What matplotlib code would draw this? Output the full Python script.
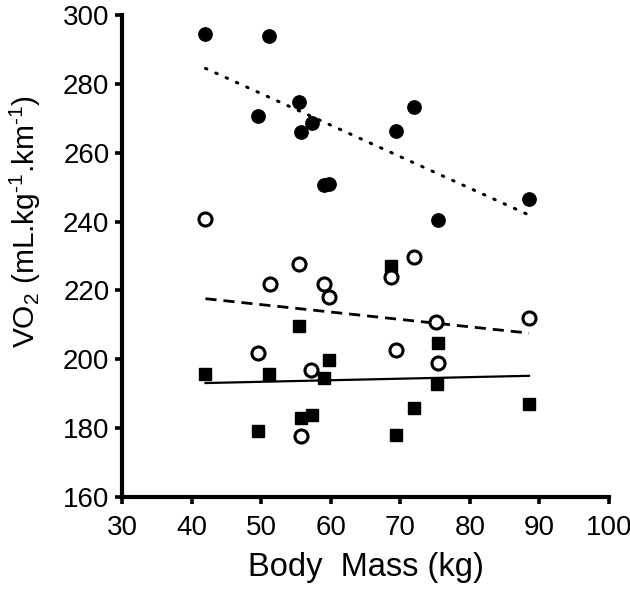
import numpy as np
import matplotlib
matplotlib.use("Agg")
import matplotlib.pyplot as plt

# filled circles
mass_filled = [41.9, 51.2, 49.5, 55.4, 55.8, 57.3, 59.0, 59.7, 69.4, 71.9, 75.4, 88.5]
vo2_filled = [294.5, 294.0, 270.7, 274.8, 266.0, 268.7, 250.5, 251.0, 266.3, 273.2, 240.5, 246.7]

# open circles
mass_open = [42.0, 49.6, 51.3, 55.5, 55.8, 57.2, 59.0, 59.7, 68.6, 69.4, 72.0, 75.1, 75.4, 88.5]
vo2_open = [240.8, 201.8, 221.8, 227.8, 177.7, 196.8, 221.8, 218.0, 223.8, 202.8, 229.8, 210.9, 198.9, 212.0]

# squares
mass_square = [41.9, 49.5, 51.2, 55.4, 55.8, 57.3, 59.0, 59.7, 68.6, 69.4, 71.9, 75.3, 75.4, 88.5]
vo2_square = [195.8, 179.1, 195.8, 209.8, 182.9, 183.8, 194.7, 199.8, 227.0, 177.9, 185.9, 192.7, 204.8, 186.9]

# regression lines (end points)
fit_x = [42.0, 88.5]
fit_filled = [284.5, 241.9]
fit_open = [217.6, 207.6]
fit_square = [193.1, 195.2]

xticks = [30, 40, 50, 60, 70, 80, 90, 100]
yticks = [160, 180, 200, 220, 240, 260, 280, 300]

plt.rcParams['font.family'] = ['Liberation Sans', 'DejaVu Sans']
plt.rcParams['mathtext.fontset'] = 'custom'
plt.rcParams['mathtext.rm'] = 'Liberation Sans'
plt.rcParams['mathtext.it'] = 'Liberation Sans'

fig = plt.figure(figsize=(6.3, 5.93), dpi=100)
ax = fig.add_axes([122 / 630, 1 - 497 / 593, 487 / 630, 482 / 593])

ax.plot(mass_square, vo2_square, 's', color='black', markersize=8.6, zorder=3)
ax.plot(mass_open, vo2_open, 'o', markerfacecolor='white', markeredgecolor='black',
        markeredgewidth=2.2, markersize=9.4, zorder=4)
ax.plot(mass_filled, vo2_filled, 'o', color='black', markersize=9.6, zorder=3)

ax.plot(fit_x, fit_filled, color='black', linewidth=2.2, linestyle=(0, (0.5, 3.2)),
        dash_capstyle='round', zorder=2)
ax.plot(fit_x, fit_open, color='black', linewidth=2.0, linestyle=(0, (4, 2.5)), zorder=2)
ax.plot(fit_x, fit_square, color='black', linewidth=1.6, zorder=2)

ax.set_xlim(30, 100)
ax.set_ylim(160, 300)
ax.set_xticks(xticks)
ax.set_yticks(yticks)

for side in ['top', 'right']:
    ax.spines[side].set_visible(False)
for side in ['left', 'bottom']:
    ax.spines[side].set_linewidth(3.0)
    ax.spines[side].set_capstyle('projecting')

ax.tick_params(axis='both', direction='out', length=5, width=2.6, labelsize=20)
ax.tick_params(axis='x', pad=8)
ax.tick_params(axis='y', pad=4)

ax.set_xlabel('Body  Mass (kg)', fontsize=23.5, labelpad=8)
fig.text(25 / 630, 1 - 221 / 593, r'VO$_2$ (mL.kg$^{\text{-}1}$.km$^{\text{-}1}$)',
         rotation=90, ha='center', va='center', fontsize=21.5)

fig.savefig('out.png', dpi=100)
